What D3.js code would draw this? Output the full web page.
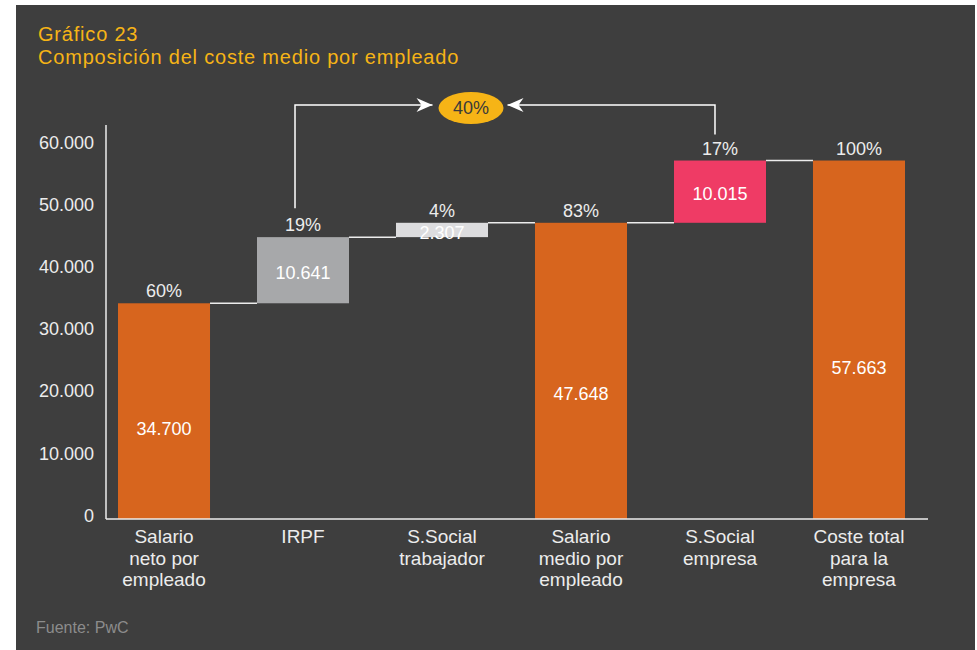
<!DOCTYPE html>
<html>
<head>
<meta charset="utf-8">
<script src="https://cdn.jsdelivr.net/npm/d3@7"></script>
<style>
  body { margin: 0; background: #fff; }
  text { font-family: "Liberation Sans", Arial, Helvetica, sans-serif; }
</style>
</head>
<body>
<script>
// Waterfall: composicion del coste medio por empleado

const categories = [
  ["Salario", "neto por", "empleado"],
  ["IRPF"],
  ["S.Social", "trabajador"],
  ["Salario", "medio por", "empleado"],
  ["S.Social", "empresa"],
  ["Coste total", "para la", "empresa"]
]
const values = [34700, 10641, 2307, 47648, 10015, 57663]
const kinds = ["total", "step", "step", "total", "step", "total"]
const shares = [60, 19, 4, 83, 17, 100]
const yTicks = [0, 10000, 20000, 30000, 40000, 50000, 60000]
// the bracket over the taxes: from IRPF to S.Social empresa
const bracketShare = 40
const bracketFrom = [1, 4]
const titleLines = ["Gráfico 23", "Composición del coste medio por empleado"]

const BAR_COLORS = ["#d7651e", "#a7a8aa", "#dcdcde", "#d7651e", "#ef3b65", "#d7651e"]
const BG = "#3e3e3e"
const YELLOW = "#f6b416"
const LIGHT = "#ececec"

const W = 977, H = 650
const AXIS_X = 106, AXIS_Y = 519

const es = d3.formatLocale({decimal: ",", thousands: ".", grouping: [3], currency: ["", "€"]})
const fmt = es.format(",d")

const svg = d3.select("body").append("svg")
    .attr("width", W)
    .attr("height", H)

svg.append("rect")
    .attr("x", 16).attr("y", 5)
    .attr("width", 959).attr("height", 645)
    .attr("fill", BG)

// TITLE (one text, two lines)
svg.append("text")
    .attr("fill", YELLOW)
    .style("font-size", "20px")
    .style("letter-spacing", "0.8px")
  .selectAll("tspan")
  .data(titleLines)
  .enter()
  .append("tspan")
    .attr("x", 38)
    .attr("y", (d, i) => 41 + i * 23)
    .text(d => d)

// SCALES
const x = d3.scaleBand()
    .domain(d3.range(categories.length))
    .range([118, 905])
    .paddingInner(0.338)
    .paddingOuter(0)
const bw = x.bandwidth()

const y = d3.scaleLinear()
    .domain([0, 60000])
    .range([AXIS_Y, 146])

// running totals for the floating bars
let running = 0
const bars = values.map((v, i) => {
  let lo, hi
  if (kinds[i] === "total") { lo = 0; hi = v }
  else { lo = running; hi = running + v }
  running = hi
  return {i, v, lo, hi, kind: kinds[i]}
})

// Y AXIS
const yAxis = svg.append("g")
    .attr("transform", "translate(" + AXIS_X + ",0)")
    .call(d3.axisLeft(y).tickValues(yTicks).tickSize(0).tickPadding(12).tickFormat(fmt))
yAxis.select(".domain").remove()
yAxis.selectAll("text")
    .attr("fill", LIGHT)
    .attr("dy", "0.12em")
    .style("font-size", "18px")
    .style("font-family", "'Liberation Sans', Arial, sans-serif")

// connectors between bars
svg.selectAll("line.conn")
  .data(bars.slice(0, -1))
  .enter()
  .append("line")
    .attr("class", "conn")
    .attr("x1", d => x(d.i) + bw)
    .attr("x2", d => x(d.i + 1))
    .attr("y1", d => y(d.hi))
    .attr("y2", d => y(d.hi))
    .attr("stroke", LIGHT)
    .attr("stroke-width", 1.5)

// BARS
svg.selectAll("rect.bar")
  .data(bars)
  .enter()
  .append("rect")
    .attr("class", "bar")
    .attr("x", d => x(d.i))
    .attr("width", bw)
    .attr("y", d => y(d.hi))
    .attr("height", d => y(d.lo) - y(d.hi))
    .attr("fill", d => BAR_COLORS[d.i])

// value labels inside the bars (totals sit a bit below the middle)
svg.selectAll("text.val")
  .data(bars)
  .enter()
  .append("text")
    .attr("class", "val")
    .attr("x", d => x(d.i) + bw / 2)
    .attr("y", d => d.kind === "total"
      ? y(d.v * 0.43) + 4
      : (y(d.lo) + y(d.hi)) / 2 + 4)
    .attr("text-anchor", "middle")
    .attr("dominant-baseline", "middle")
    .attr("fill", "#fff")
    .style("font-size", "18px")
    .text(d => fmt(d.v))

// share labels over the bars
svg.selectAll("text.share")
  .data(bars)
  .enter()
  .append("text")
    .attr("class", "share")
    .attr("x", d => x(d.i) + bw / 2)
    .attr("y", d => y(d.hi) - 6)
    .attr("text-anchor", "middle")
    .attr("fill", LIGHT)
    .style("font-size", "18px")
    .text((d, i) => shares[i] + "%")

// axis lines
svg.append("line")
    .attr("x1", AXIS_X).attr("x2", AXIS_X)
    .attr("y1", 125).attr("y2", AXIS_Y)
    .attr("stroke", LIGHT).attr("stroke-width", 1.5)
svg.append("line")
    .attr("x1", AXIS_X).attr("x2", 928)
    .attr("y1", AXIS_Y).attr("y2", AXIS_Y)
    .attr("stroke", LIGHT).attr("stroke-width", 1.5)

// category labels
const catLabels = svg.selectAll("text.cat")
  .data(categories)
  .enter()
  .append("text")
    .attr("class", "cat")
    .attr("text-anchor", "middle")
    .attr("fill", LIGHT)
    .style("font-size", "19px")
catLabels.selectAll("tspan")
  .data((d, i) => d.map(line => ({line, i})))
  .enter()
  .append("tspan")
    .attr("x", d => x(d.i) + bw / 2)
    .attr("y", (d, j) => 543 + j * 21.5)
    .text(d => d.line)

// BRACKET WITH ARROWS
const ARROW_Y = 105
const ell = {cx: x(2) + bw - 17, cy: 108, rx: 32.5, ry: 16}

svg.append("defs").append("marker")
    .attr("id", "head")
    .attr("markerUnits", "userSpaceOnUse")
    .attr("viewBox", "-18 -9 20 18")
    .attr("refX", 0).attr("refY", 0)
    .attr("markerWidth", 20).attr("markerHeight", 18)
    .attr("orient", "auto")
  .append("path")
    .attr("d", "M0,0 L-16,-7 L-11,0 L-16,7 Z")
    .attr("fill", "#fff")

const leftX = x(bracketFrom[0]) + bw / 2 - 8
const rightX = x(bracketFrom[1]) + bw / 2 - 5
svg.append("path")
    .attr("d", ["M", leftX, y(bars[bracketFrom[0]].hi) - 29,
      "V", ARROW_Y, "H", ell.cx - ell.rx - 6].join(" "))
    .attr("fill", "none")
    .attr("stroke", "#fff")
    .attr("stroke-width", 1.5)
    .attr("marker-end", "url(#head)")
svg.append("path")
    .attr("d", ["M", rightX, y(bars[bracketFrom[1]].hi) - 26,
      "V", ARROW_Y, "H", ell.cx + ell.rx + 4].join(" "))
    .attr("fill", "none")
    .attr("stroke", "#fff")
    .attr("stroke-width", 1.5)
    .attr("marker-end", "url(#head)")

svg.append("ellipse")
    .attr("cx", ell.cx).attr("cy", ell.cy)
    .attr("rx", ell.rx).attr("ry", ell.ry)
    .attr("fill", YELLOW)
svg.append("text")
    .attr("x", ell.cx).attr("y", ell.cy + 1)
    .attr("text-anchor", "middle")
    .attr("dominant-baseline", "middle")
    .attr("fill", "#3a3a3a")
    .style("font-size", "18px")
    .text(bracketShare + "%")

// SOURCE
svg.append("text")
    .attr("x", 36).attr("y", 633)
    .attr("fill", "#8c8c8c")
    .style("font-size", "16px")
    .text("Fuente: PwC")
</script>
</body>
</html>
